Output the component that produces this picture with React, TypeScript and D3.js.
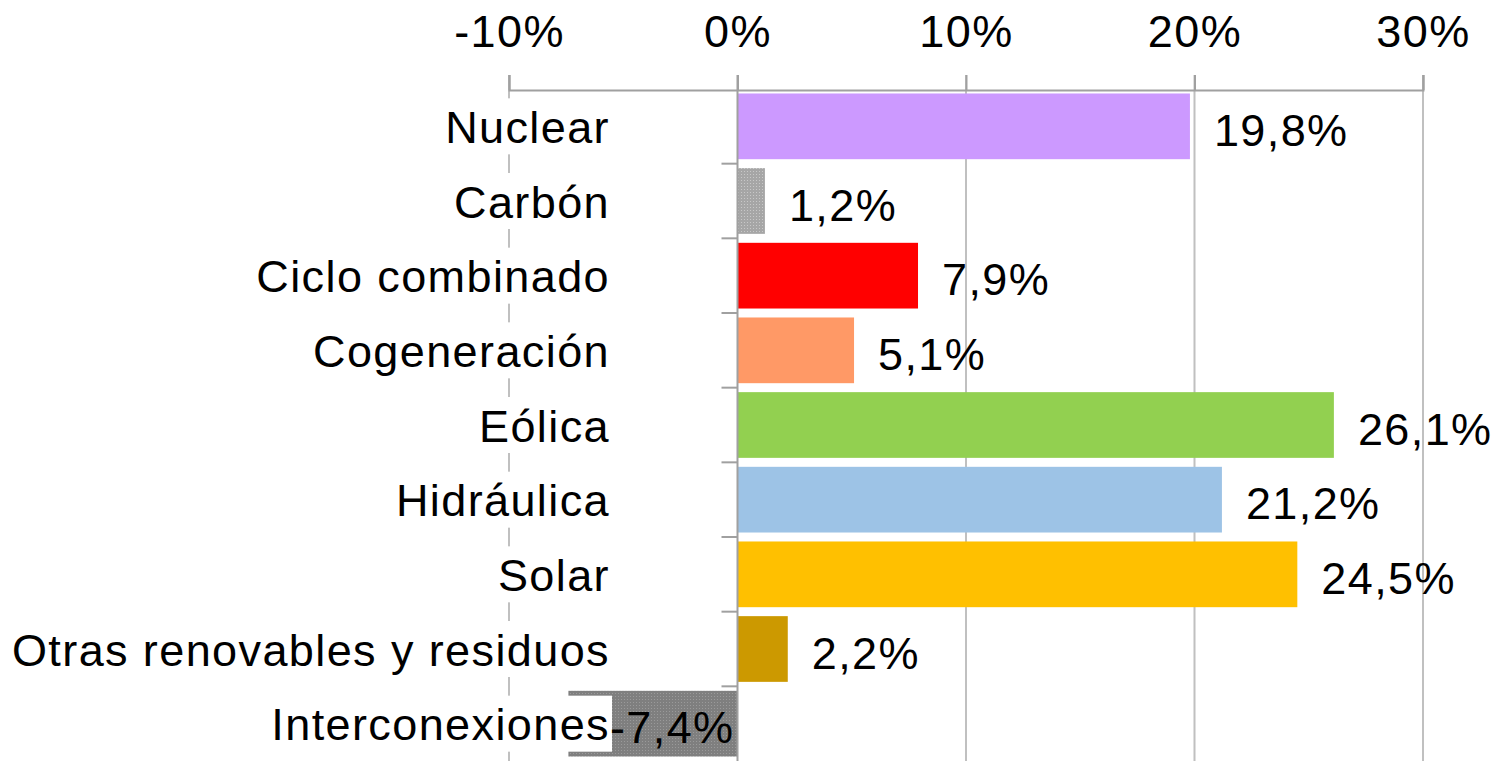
import React, { useEffect, useRef } from 'react';
import * as d3 from 'd3';

const categories = [
  'Nuclear',
  'Carbón',
  'Ciclo combinado',
  'Cogeneración',
  'Eólica',
  'Hidráulica',
  'Solar',
  'Otras renovables y residuos',
  'Interconexiones',
];
const values = [19.8, 1.2, 7.9, 5.1, 26.1, 21.2, 24.5, 2.2, -7.4];
const colors = ['#cc99ff', 'url(#dotLight)', '#ff0000', '#ff9966', '#92d050', '#9dc3e6', '#ffc000', '#cc9900', 'url(#dotDark)'];
const ticks = [-10, 0, 10, 20, 30];

const W = 1511;
const H = 761;
const FONT = '"Liberation Sans", Arial, sans-serif';
const FS = '45px';
const LS = '1.4px';

const App = () => {
  const ref = useRef<SVGSVGElement>(null);

  useEffect(() => {
    const svg = d3.select(ref.current);
    svg.selectAll('*').remove();

    const x = d3.scaleLinear().domain([-10, 30]).range([509, 1423]);
    const y = d3.scaleBand().domain(categories).range([89, 761]).paddingInner(0.12).paddingOuter(0.06);
    const step = y.step();

    // dotted fills for the grey bars
    const defs = svg.append('defs');
    const addPattern = (id, base, dot) => {
      const p = defs.append('pattern').attr('id', id).attr('width', 3).attr('height', 3).attr('patternUnits', 'userSpaceOnUse');
      p.append('rect').attr('width', 3).attr('height', 3).attr('fill', base);
      p.append('rect').attr('width', 1).attr('height', 1).attr('fill', dot);
    };
    addPattern('dotLight', '#a6a6a6', '#c8c8c8');
    addPattern('dotDark', '#7f7f7f', '#9a9a9a');

    // gridlines
    svg.append('g')
      .selectAll('line')
      .data(ticks.filter(t => t !== 0))
      .enter().append('line')
      .attr('x1', d => x(d)).attr('x2', d => x(d))
      .attr('y1', 75).attr('y2', H)
      .attr('stroke', '#c0c0c0')
      .attr('stroke-width', 2);

    // top axis
    const axis = svg.append('g').attr('transform', 'translate(0,90)')
      .call(d3.axisTop(x).tickValues(ticks).tickSize(15).tickFormat(d => `${d}%`));
    axis.select('.domain').attr('stroke', '#a0a0a0').attr('stroke-width', 2);
    axis.selectAll('.tick line').attr('stroke', '#a0a0a0').attr('stroke-width', 2);
    axis.selectAll('.tick text')
      .attr('y', -75)
      .attr('dy', '0.71em')
      .style('font-family', FONT)
      .style('font-size', FS)
      .style('letter-spacing', LS)
      .attr('fill', '#000');

    // bars
    svg.append('g')
      .selectAll('rect')
      .data(values)
      .enter().append('rect')
      .attr('x', d => x(Math.min(0, d)))
      .attr('y', (d, i) => y(categories[i]))
      .attr('width', d => Math.abs(x(d) - x(0)))
      .attr('height', y.bandwidth())
      .attr('fill', (d, i) => colors[i]);

    // category labels with white boxes (they hide the gridline)
    const labels = svg.append('g');
    categories.forEach(c => {
      const cy = y(c) + y.bandwidth() / 2;
      const box = labels.append('rect').attr('fill', '#fff');
      const t = labels.append('text')
        .attr('x', 610)
        .attr('y', cy + 1)
        .attr('dy', '0.35em')
        .attr('text-anchor', 'end')
        .style('font-family', FONT)
        .style('font-size', FS)
        .style('letter-spacing', LS)
        .attr('fill', '#000')
        .text(c);
      const bb = (t.node() as SVGTextElement).getBBox();
      box.attr('x', bb.x - 1).attr('y', cy - 28).attr('width', bb.width + 3).attr('height', 56);
    });

    // zero line and category ticks
    svg.append('line')
      .attr('x1', x(0)).attr('x2', x(0))
      .attr('y1', 75).attr('y2', H)
      .attr('stroke', '#a0a0a0').attr('stroke-width', 2);
    svg.append('g')
      .selectAll('line')
      .data(categories.slice(1))
      .enter().append('line')
      .attr('x1', x(0) - 16).attr('x2', x(0))
      .attr('y1', d => y(d) - (step - y.bandwidth()) / 2)
      .attr('y2', d => y(d) - (step - y.bandwidth()) / 2)
      .attr('stroke', '#a0a0a0').attr('stroke-width', 2);

    // value labels
    svg.append('g')
      .selectAll('text')
      .data(values)
      .enter().append('text')
      .attr('x', d => d >= 0 ? x(d) + 24 : x(0) - 3)
      .attr('y', (d, i) => y(categories[i]) + y.bandwidth() / 2 + 4)
      .attr('dy', '0.35em')
      .attr('text-anchor', d => d >= 0 ? 'start' : 'end')
      .style('font-family', FONT)
      .style('font-size', FS)
      .style('letter-spacing', LS)
      .attr('fill', '#000')
      .text(d => `${d3.format('.1f')(d).replace('.', ',').replace('−', '-')}%`);
  }, []);

  return (
    <div style={{ position: 'fixed', left: 0, top: 0, background: '#fff' }}>
      <svg ref={ref} width={W} height={H} style={{ display: 'block' }} />
    </div>
  );
};

export default App;
